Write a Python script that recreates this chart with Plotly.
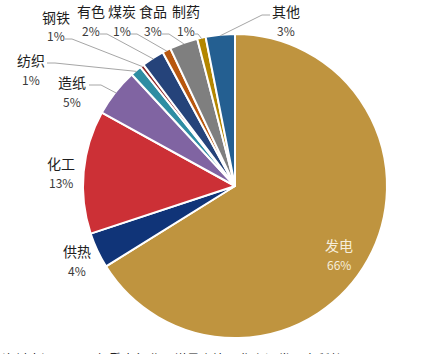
import math
import plotly.graph_objects as go

# ---------------- data ----------------
categories = ["发电", "供热", "化工", "造纸", "纺织", "钢铁", "有色", "煤炭", "食品", "制药", "其他"]
shares = [66.2, 3.8, 13.1, 5.1, 1.2, 0.4, 2.4, 0.9, 3.0, 0.9, 3.1]
pct_labels = ["66%", "4%", "13%", "5%", "1%", "1%", "2%", "1%", "3%", "1%", "3%"]

# ---------------- styling ----------------
colors = ["#BF943F", "#103478", "#CC3036", "#8064A2", "#2E8DA3", "#8E2A2A",
          "#25437A", "#B8570F", "#7F7F7F", "#B38600", "#245F91"]

W, H = 429, 354
CX, CY, R = 235, 186, 152  # pie centre / radius in pixels

# label placement (pixel centres of name line, percent line below it)
label_pos = {
    "发电": (339, 245), "供热": (77, 251), "化工": (61, 163), "造纸": (72, 82),
    "纺织": (31, 60), "钢铁": (56, 17), "有色": (91, 11), "煤炭": (122, 11),
    "食品": (153, 11), "制药": (186, 11), "其他": (286, 11),
}
pct_gap = 19
# leader-line start and elbow points (pixels)
leader = {
    "造纸": ((89, 85), (101, 85)),
    "纺织": ((47, 63), (55, 63)),
    "钢铁": ((65, 39), (72, 39)),
    "有色": ((100, 34), (107, 34)),
    "煤炭": ((130, 34), (137, 34)),
    "食品": ((162, 34), (169, 34)),
    "制药": ((195, 34), (198, 34)),
    "其他": ((270, 15), (262, 15)),
}


def px(x):
    return x / W


def py(y):
    return 1 - y / H


fig = go.Figure(go.Pie(
    labels=categories,
    values=shares,
    sort=False,
    direction="clockwise",
    rotation=0,
    marker=dict(colors=colors, line=dict(color="white", width=2)),
    textinfo="none",
    hoverinfo="label+percent",
    showlegend=False,
    domain=dict(x=[(CX - R) / W, (CX + R) / W], y=[1 - (CY + R) / H, 1 - (CY - R) / H]),
))

total = sum(shares)
cum = 0.0
annotations = []
shapes = []
for name, v, pl in zip(categories, shares, pct_labels):
    mid = (cum + v / 2) / total * 2 * math.pi
    cum += v
    lx, ly = label_pos[name]
    is_inside = name == "发电"
    col_name = "#F6EEDC" if is_inside else "#1E1E1E"
    col_pct = "#F6EEDC" if is_inside else "#3A3A3A"
    annotations.append(dict(
        x=px(lx), y=py(ly), xref="paper", yref="paper", text=name, showarrow=False,
        font=dict(family="Noto Sans CJK SC", size=14, color=col_name),
        xanchor="center", yanchor="middle"))
    annotations.append(dict(
        x=px(lx), y=py(ly + pct_gap), xref="paper", yref="paper", text=pl, showarrow=False,
        font=dict(family="Noto Sans CJK SC", size=12, color=col_pct),
        xanchor="center", yanchor="middle"))
    if name in leader:
        (sx, sy), (ex, ey) = leader[name]
        tx = CX + (R - 1) * math.sin(mid)
        ty = CY - (R - 1) * math.cos(mid)
        path = f"M {px(sx)},{py(sy)} L {px(ex)},{py(ey)} L {px(tx)},{py(ty)}"
        shapes.append(dict(type="path", path=path, xref="paper", yref="paper",
                           line=dict(color="#A6A6A6", width=1)))

# clipped source line at the bottom edge
annotations.append(dict(
    x=0.0, y=py(347), xref="paper", yref="paper",
    text="资料来源：2022年重点行业用煤量占比，华安证券研究所整理",
    showarrow=False, xanchor="left", yanchor="top",
    font=dict(family="Noto Sans CJK SC", size=13, color="#222222")))

fig.update_layout(
    width=W, height=H,
    margin=dict(l=0, r=0, t=0, b=0),
    paper_bgcolor="white",
    plot_bgcolor="white",
    annotations=annotations,
    shapes=shapes,
)

fig.write_html("out.html")
